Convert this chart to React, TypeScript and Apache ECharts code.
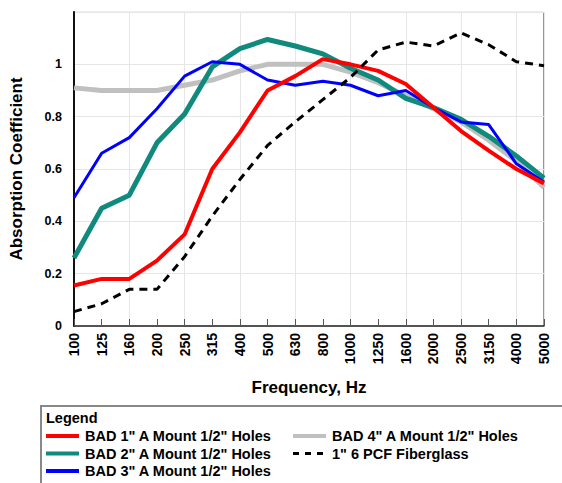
import React, { useEffect, useRef } from "react";
import * as echarts from "echarts";

const categories = ["100","125","160","200","250","315","400","500","630","800","1000","1250","1600","2000","2500","3150","4000","5000"];
const bad1 = [0.155,0.18,0.18,0.25,0.35,0.6,0.74,0.9,0.955,1.02,1.0,0.975,0.925,0.835,0.745,0.67,0.6,0.545];
const bad2 = [0.26,0.45,0.5,0.7,0.81,0.99,1.06,1.095,1.07,1.04,0.985,0.94,0.87,0.835,0.79,0.725,0.65,0.565];
const bad3 = [0.49,0.66,0.72,0.83,0.955,1.01,1.0,0.94,0.92,0.935,0.92,0.88,0.9,0.835,0.78,0.77,0.62,0.55];
const bad4 = [0.91,0.9,0.9,0.9,0.92,0.94,0.975,1.0,1.0,1.0,0.97,0.93,0.88,0.83,0.78,0.71,0.63,0.53];
const fiberglass = [0.055,0.085,0.14,0.14,0.265,0.42,0.56,0.69,0.78,0.865,0.95,1.055,1.085,1.07,1.12,1.075,1.01,0.995];
const yTicks = [0, 0.2, 0.4, 0.6, 0.8, 1, 1.2];

const names = [
  'BAD 1" A Mount 1/2" Holes',
  'BAD 2" A Mount 1/2" Holes',
  'BAD 3" A Mount 1/2" Holes',
  'BAD 4" A Mount 1/2" Holes',
  '1" 6 PCF Fiberglass',
];
const colors = ["#ff0000", "#0f8a7c", "#0000ff", "#c0c0c0", "#000000"];
const widths = [4, 5, 3, 5, 3];

const FONT = "Liberation Sans, Arial, sans-serif";

export default function App() {
  const ref = useRef<HTMLDivElement>(null);
  useEffect(() => {
    document.body.style.margin = "0";
    const chart = echarts.init(ref.current!, null, { renderer: "svg" });

    // legend layout: column 1 holds items 0..2, column 2 holds items 3..4
    const legendSlots = [
      { x: 46, row: 0 }, { x: 46, row: 1 }, { x: 46, row: 2 },
      { x: 293, row: 0 }, { x: 293, row: 1 },
    ];
    const legendGraphics: any[] = [];
    names.forEach((n, i) => {
      const s = legendSlots[i];
      const y = 436 + s.row * 17.5;
      legendGraphics.push({
        type: "line",
        shape: { x1: s.x, y1: y, x2: s.x + 33, y2: y },
        style: {
          stroke: colors[i],
          lineWidth: i === 4 ? 3 : 4,
          lineDash: i === 4 ? [6, 6] : null,
        },
      });
      legendGraphics.push({
        type: "text",
        x: s.x + 39,
        y: y,
        style: { text: n, fontFamily: FONT, fontWeight: "bold", fontSize: 14.5, fill: "#000", verticalAlign: "middle" },
      });
    });

    const order = [3, 1, 2, 0, 4];
    const dataSets = [bad1, bad2, bad3, bad4, fiberglass];

    chart.setOption({
      animation: false,
      backgroundColor: "#fff",
      grid: { left: 68, top: 12, width: 476, height: 314, show: true, borderColor: "#ddd", borderWidth: 1 },
      xAxis: {
        type: "category",
        data: categories,
        boundaryGap: false,
        name: "Frequency, Hz",
        nameLocation: "middle",
        nameGap: 53,
        nameTextStyle: { fontFamily: FONT, fontWeight: "bold", fontSize: 17, color: "#000" },
        axisLine: { lineStyle: { color: "#222", width: 1.5 } },
        axisTick: { inside: true, length: 7, interval: 0, lineStyle: { color: "#555" } },
        axisLabel: { rotate: 90, interval: 0, fontFamily: FONT, fontWeight: "bold", fontSize: 14, color: "#000", margin: 7 },
        splitLine: { show: true, interval: 1, lineStyle: { color: "#e6e6e6", width: 1 } },
      },
      yAxis: {
        type: "value",
        min: yTicks[0],
        max: yTicks[yTicks.length - 1],
        interval: 0.2,
        name: "Absorption Coefficient",
        nameLocation: "middle",
        nameGap: 49,
        nameTextStyle: { fontFamily: FONT, fontWeight: "bold", fontSize: 17, color: "#000" },
        axisLine: { show: true, lineStyle: { color: "#111", width: 2 } },
        axisTick: { show: false },
        axisLabel: {
          fontFamily: FONT, fontWeight: "bold", fontSize: 12.5, color: "#000", margin: 12,
          formatter: (v: number) => (v > 1.1 ? "" : String(Math.round(v * 10) / 10)),
        },
        splitLine: { show: true, lineStyle: { color: "#e6e6e6", width: 1 } },
      },
      graphic: [
        { type: "line", shape: { x1: 544, y1: 12, x2: 544, y2: 326 }, style: { stroke: "#777", lineWidth: 1.5 } },
        { type: "rect", shape: { x: 41, y: 406, width: 540, height: 100 }, style: { fill: "none", stroke: "#888", lineWidth: 2 } },
        { type: "text", x: 46, y: 410, style: { text: "Legend", fontFamily: FONT, fontWeight: "bold", fontSize: 14.5, fill: "#000" } },
        ...legendGraphics,
      ],
      series: order.map((i, z) => ({
        name: names[i],
        type: "line",
        data: dataSets[i],
        symbol: "none",
        z: z + 1,
        lineStyle: { color: colors[i], width: widths[i], type: i === 4 ? [8, 6] : "solid" },
        itemStyle: { color: colors[i] },
      })),
    });
    return () => chart.dispose();
  }, []);
  return <div ref={ref} style={{ width: 562, height: 483 }} />;
}
